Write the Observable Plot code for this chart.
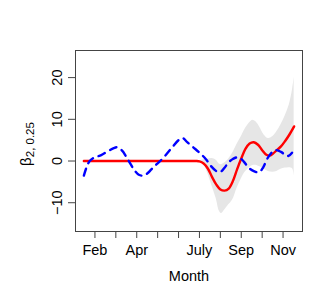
<!DOCTYPE html>
<html>
<head>
<meta charset="utf-8">
<script src="https://cdn.jsdelivr.net/npm/d3@7"></script>
<script src="https://cdn.jsdelivr.net/npm/@observablehq/plot@0.6"></script>
<style>
  html, body { margin: 0; padding: 0; background: #fff; }
  svg { display: block; }
</style>
</head>
<body>
<div id="chart"></div>
<script>
// Month positions (1 = Jan)
const redMonth = [1.47, 2.5, 3.5, 4.5, 5.5, 6.5, 6.85, 7.0, 7.2, 7.4, 7.6, 7.8, 8.0, 8.2, 8.4, 8.6, 8.8, 9.0, 9.2, 9.4, 9.6, 9.8, 10.0, 10.2, 10.35, 10.5, 10.7, 10.9, 11.1, 11.3, 11.53];
const redValue = [0, 0, 0, 0, 0, 0, 0, -0.1, -0.6, -1.8, -3.8, -5.6, -6.8, -7.1, -6.6, -4.8, -2.0, 0.6, 2.9, 4.2, 4.5, 3.9, 2.6, 1.5, 1.3, 1.7, 2.6, 3.5, 4.8, 6.3, 8.3];

const blueMonth = [1.47, 1.6, 1.75, 2.0, 2.3, 2.6, 2.9, 3.07, 3.3, 3.5, 3.7, 3.9, 4.1, 4.3, 4.5, 4.7, 4.9, 5.1, 5.4, 5.7, 6.0, 6.2, 6.4, 6.7, 7.0, 7.3, 7.55, 7.8, 8.0, 8.2, 8.4, 8.6, 8.85, 9.1, 9.35, 9.6, 9.85, 10.05, 10.25, 10.45, 10.65, 10.9, 11.1, 11.25, 11.43];
const blueValue = [-3.5, -1.5, 0, 0.9, 1.4, 2.3, 3.1, 3.3, 2.5, 1.0, -0.7, -2.3, -3.3, -3.5, -3.0, -2.0, -1.0, -0.1, 1.5, 3.3, 5.0, 5.5, 4.6, 3.3, 2.0, 0.5, -1.2, -2.4, -2.6, -1.6, -0.3, 0.5, 0.9, 0, -1.6, -2.4, -2.7, -1.5, 0.6, 2.0, 2.6, 2.2, 1.5, 1.2, 2.0];

const bandMonth = [7.0, 7.2, 7.4, 7.6, 7.8, 7.95, 8.05, 8.2, 8.4, 8.6, 8.8, 9.0, 9.2, 9.4, 9.55, 9.7, 9.9, 10.1, 10.3, 10.5, 10.7, 10.9, 11.1, 11.3, 11.45, 11.53];
const bandLower = [0, -0.8, -3.0, -6.0, -9.0, -12.0, -12.6, -11.8, -10.5, -9.2, -6.5, -4.3, -2.6, -1.6, -1.1, -1.0, -1.4, -2.0, -2.5, -2.7, -2.5, -2.0, -1.7, -1.6, -1.8, -3.5];
const bandUpper = [0, 0.3, 0.4, 0.6, 0.2, -0.7, -0.9, -0.5, 0.5, 2.0, 4.0, 5.8, 7.8, 9.2, 9.8, 9.4, 8.0, 6.2, 5.4, 5.8, 7.0, 8.7, 10.8, 13.5, 17.0, 20.0];

const xTicks = [2, 3, 4, 5, 6, 7, 8, 9, 10, 11];
const xTickLabels = ["Feb", "", "Apr", "", "", "July", "", "Sep", "", "Nov"];
const yTicks = [-10, 0, 10, 20];
const yTickLabels = ["\u221210", "0", "10", "20"];

const red = redMonth.map((m, i) => ({m, v: redValue[i]}));
const blue = blueMonth.map((m, i) => ({m, v: blueValue[i]}));
const band = bandMonth.map((m, i) => ({m, lo: bandLower[i], hi: bandUpper[i]}));
const yLab = yTicks.map((t, i) => ({t, s: yTickLabels[i]}));

const font = "Liberation Sans, Arial, Helvetica, sans-serif";

const chart = Plot.plot({
  width: 327,
  height: 295,
  marginLeft: 75,
  marginRight: 25,
  marginTop: 50,
  marginBottom: 64,
  style: {fontFamily: font, fontSize: "14px", background: "#fff", color: "#000"},
  x: {domain: [1.07, 11.93]},
  y: {domain: [-16.9, 26.5]},
  marks: [
    Plot.areaY(band, {x: "m", y1: "lo", y2: "hi", fill: "#e6e6e6", curve: "catmull-rom"}),
    Plot.line(red, {x: "m", y: "v", stroke: "#ff0000", strokeWidth: 2.4, curve: "catmull-rom"}),
    Plot.line(blue, {x: "m", y: "v", stroke: "#0000ff", strokeWidth: 2.4, strokeDasharray: "7,6", curve: "catmull-rom"}),
    Plot.frame({stroke: "#444", strokeWidth: 1}),
    Plot.axisX({ticks: xTicks, tickSize: 7, tickPadding: 6, stroke: "#444", fill: "#000", fontSize: 14.5,
      tickFormat: d => xTickLabels[xTicks.indexOf(d)] ?? "", label: null}),
    Plot.axisY({ticks: yTicks, tickSize: 7, stroke: "#444", tickFormat: () => "", label: null}),
    Plot.text(yLab, {y: "t", text: "s", frameAnchor: "left", dx: -13.5, rotate: -90,
      textAnchor: "middle", lineAnchor: "bottom", fontSize: 14.5, fill: "#000"}),
    Plot.text(["Month"], {frameAnchor: "bottom", dy: 49, lineAnchor: "bottom", textAnchor: "middle",
      fontSize: 14.5, fill: "#000"})
  ]
});

// y-axis title with subscript: β_{2, 0.25}
const svg = d3.select(chart);
const t = svg.append("text")
  .attr("transform", "translate(31,144) rotate(-90)")
  .attr("text-anchor", "middle")
  .attr("font-family", font)
  .attr("font-size", 15)
  .attr("fill", "#000");
t.append("tspan").text("\u03B2");
t.append("tspan").attr("font-size", 11.5).attr("dy", 2.5).text("2, 0.25");

document.getElementById("chart").appendChild(chart);
</script>
</body>
</html>
